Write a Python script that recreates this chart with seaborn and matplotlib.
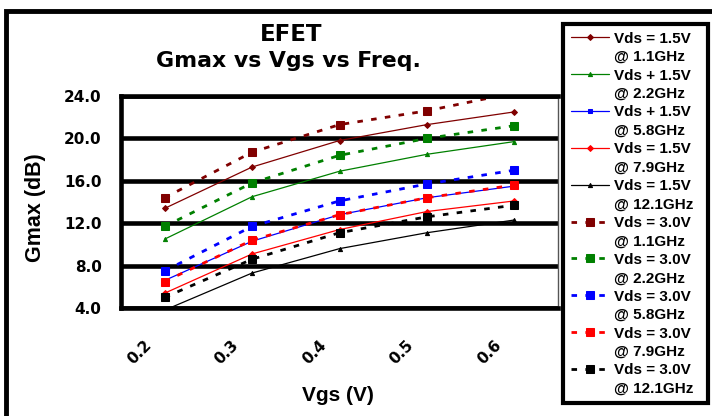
import numpy as np
import seaborn as sns
import matplotlib.pyplot as plt
from matplotlib.lines import Line2D
from matplotlib.patches import Rectangle
from matplotlib.transforms import ScaledTranslation

# Vgs categories (x axis)
vgs_labels = ['0.2', '0.3', '0.4', '0.5', '0.6']

# Gmax (dB), Vds = 1.5V
g15_1p1 = [13.4, 17.3, 19.8, 21.3, 22.5]
g15_2p2 = [10.5, 14.5, 16.9, 18.5, 19.7]
g15_5p8 = [6.6, 10.3, 12.8, 14.4, 15.5]
g15_7p9 = [5.4, 9.1, 11.4, 13.1, 14.1]
g15_12p1 = [3.8, 7.3, 9.6, 11.1, 12.3]

# Vds = 3.0V
g30_1p1 = [14.4, 18.7, 21.3, 22.6, 24.3]
g30_2p2 = [11.7, 15.8, 18.4, 20.0, 21.2]
g30_5p8 = [7.5, 11.7, 14.1, 15.7, 17.0]
g30_7p9 = [6.5, 10.4, 12.8, 14.4, 15.6]
g30_12p1 = [5.0, 8.6, 11.1, 12.6, 13.7]

vds_labels = ['Vds = 1.5V', 'Vds + 1.5V', 'Vds + 1.5V', 'Vds = 1.5V', 'Vds = 1.5V',
              'Vds = 3.0V', 'Vds = 3.0V', 'Vds = 3.0V', 'Vds = 3.0V', 'Vds = 3.0V']
freq_labels = ['@ 1.1GHz', '@ 2.2GHz', '@ 5.8GHz', '@ 7.9GHz', '@ 12.1GHz'] * 2

sns.set_style('white')
plt.rcParams['font.family'] = ['Liberation Sans', 'DejaVu Sans']
plt.rcParams['font.weight'] = 'bold'
for key in ['text.color', 'axes.labelcolor', 'xtick.color', 'ytick.color']:
    plt.rcParams[key] = 'black'
wide = 'DejaVu Sans'   # the tick labels and titles are drawn wider in the original

fig = plt.figure(figsize=(7.12, 4.16), dpi=100)
ax = fig.add_axes([121 / 712, 108 / 416, 437 / 712, 212 / 416])

x = np.arange(len(vgs_labels))
colors = ['#800000', '#008000', '#0000ff', '#ff0000', '#000000']
solid_markers = ['D', '^', 's', 'D', '^']
solid_series = [g15_1p1, g15_2p2, g15_5p8, g15_7p9, g15_12p1]
dash_series = [g30_1p1, g30_2p2, g30_5p8, g30_7p9, g30_12p1]

for vals, c, m in zip(solid_series, colors, solid_markers):
    sns.lineplot(x=x, y=vals, ax=ax, color=c, marker=m, markersize=3,
                 markeredgecolor=c, linewidth=0.9)
for vals, c in zip(dash_series, colors):
    sns.lineplot(x=x, y=vals, ax=ax, color=c, marker='s', markersize=6,
                 markeredgecolor=c, linewidth=2, linestyle=(0, (2, 3)))

ax.set_xlim(-0.5, len(vgs_labels) - 0.5)
ax.set_ylim(4, 24)
ax.set_yticks(np.arange(4, 25, 4))
ax.set_yticklabels([f'{v:.1f}' for v in np.arange(4, 25, 4)], fontsize=11,
                   fontweight='bold', fontfamily=wide)
ax.set_xticks(np.arange(-0.5, len(vgs_labels), 1))
ax.set_xticklabels([])
ax.set_xticks(x, minor=True)
ax.set_xticklabels(vgs_labels, minor=True, rotation=45, ha='right', va='top',
                   rotation_mode='anchor', fontsize=11, fontweight='bold', fontfamily=wide)
ax.tick_params(axis='x', which='major', direction='out', length=5, width=3, color='black')
ax.tick_params(axis='x', which='minor', length=0, pad=21)
ax.tick_params(axis='y', direction='out', length=7, width=3, color='black', pad=7)
shift = ScaledTranslation(-15 / 72, 0, fig.dpi_scale_trans)
for lbl in ax.get_xticklabels(minor=True):
    lbl.set_transform(lbl.get_transform() + shift)

ax.yaxis.grid(True, color='black', linewidth=3.3)
ax.xaxis.grid(False)
ax.set_axisbelow(True)
for side in ['left', 'bottom', 'top']:
    ax.spines[side].set_color('black')
    ax.spines[side].set_linewidth(3.3)
ax.spines['right'].set_color('#555555')
ax.spines['right'].set_linewidth(1)
ax.set_xlabel('')
ax.set_ylabel('')

fig.text(291 / 712, 1 - 41 / 416, 'EFET', ha='center', va='baseline', fontsize=16.5,
         fontweight='bold', fontfamily=wide)
fig.text(288 / 712, 1 - 67 / 416, 'Gmax vs Vgs vs Freq.', ha='center', va='baseline',
         fontsize=15.8, fontweight='bold', fontfamily=wide)
fig.text(36 / 712, 1 - 208 / 416, 'Gmax (dB)', rotation=90, ha='center', va='center',
         fontsize=15.5, fontweight='bold')
fig.text(338 / 712, 1 - 401 / 416, 'Vgs (V)', ha='center', va='baseline', fontsize=15,
         fontweight='bold')

# outer chart frame
fig.patches.append(Rectangle((6 / 712, -0.2), 1.2, 1.2 - 10.5 / 416, transform=fig.transFigure,
                             fill=False, edgecolor='black', linewidth=3.5, zorder=0))

# legend: one row for the line, one blank row for the frequency
handles, labels = [], []
lines = ax.get_lines()
for i, ln in enumerate(lines[:10]):
    handles.append(ln)
    labels.append(vds_labels[i])
    handles.append(Line2D([], [], linestyle='none'))
    labels.append(freq_labels[i])
leg = fig.legend(handles, labels, loc='upper left',
                 bbox_to_anchor=(563 / 712, 0.0, 145 / 712, 1 - 24 / 416),
                 bbox_transform=fig.transFigure, mode='expand', borderaxespad=0,
                 borderpad=0.5, handlelength=2.5, handletextpad=0.35, labelspacing=0.29,
                 prop={'weight': 'bold', 'size': 11}, fancybox=False, framealpha=1,
                 edgecolor='black')
leg.get_frame().set_linewidth(3)

fig.savefig('out.png', dpi=100)
